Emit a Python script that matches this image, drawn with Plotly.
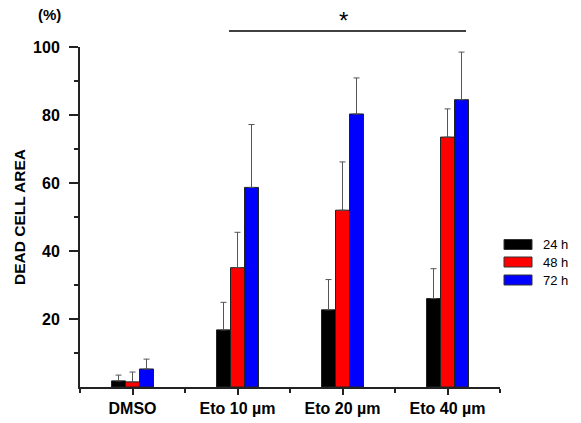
import plotly.graph_objects as go

categories = ["DMSO", "Eto 10 µm", "Eto 20 µm", "Eto 40 µm"]
series_names = ["24 h", "48 h", "72 h"]
series_colors = ["#000000", "#ff0000", "#0000ff"]
values_24h = [1.8, 16.8, 22.7, 26.0]
values_48h = [1.5, 35.1, 52.0, 73.5]
values_72h = [5.3, 58.7, 80.3, 84.5]
err_24h = [1.7, 8.1, 8.9, 8.8]
err_48h = [2.9, 10.4, 14.2, 8.3]
err_72h = [2.9, 18.5, 10.6, 14.0]
y_ticks = [20, 40, 60, 80, 100]

values = [values_24h, values_48h, values_72h]
errors = [err_24h, err_48h, err_72h]
xpos = list(range(len(categories)))

FONT = "Liberation Sans, Arial, sans-serif"
W, H = 581, 423
ML, MR, MT, MB = 80, 81, 47, 36
PW, PH = W - ML - MR, H - MT - MB

def px(x):
    return (x - ML) / PW

def py(y):
    return (H - MB - y) / PH

fig = go.Figure()
for name, col, v, e in zip(series_names, series_colors, values, errors):
    fig.add_trace(go.Bar(
        x=xpos, y=v, name=name,
        marker=dict(color=col, line=dict(color="#222222", width=1)),
        error_y=dict(type="data", array=e, arrayminus=[0] * len(e), symmetric=False,
                     color="#555555", thickness=1, width=3),
        showlegend=False,
    ))

fig.update_layout(
    width=W, height=H,
    margin=dict(l=ML, r=MR, t=MT, b=MB, autoexpand=False),
    paper_bgcolor="white", plot_bgcolor="white",
    barmode="group", bargap=0.6, bargroupgap=0,
    font=dict(family=FONT, color="#000000"),
    xaxis=dict(
        range=[-0.5, 3.5], tickmode="array", tickvals=xpos, ticktext=categories,
        automargin=False,
        showgrid=False, zeroline=False, showline=True, linecolor="#222222", linewidth=2,
        ticks="outside", ticklen=6, tickwidth=2, tickcolor="#222222",
        tickfont=dict(family=FONT, size=16, color="#000000", weight="bold"),
        minor=dict(tickmode="linear", tick0=-0.5, dtick=1, ticks="outside", ticklen=4,
                   tickwidth=2, tickcolor="#222222"),
    ),
    yaxis=dict(
        range=[0, 100], tickmode="array", tickvals=y_ticks,
        automargin=False,
        showgrid=False, zeroline=False, showline=True, linecolor="#222222", linewidth=2,
        ticks="outside", ticklen=9, tickwidth=2, tickcolor="#222222",
        ticklabelstandoff=6,
        tickfont=dict(family=FONT, size=16, color="#000000", weight="bold"),
        minor=dict(tickmode="linear", tick0=10, dtick=20, ticks="outside", ticklen=4,
                   tickwidth=2, tickcolor="#222222"),
        title=dict(text="DEAD CELL AREA", standoff=4,
                   font=dict(family=FONT, size=15.5, color="#000000", weight="bold")),
    ),
)

# (%) unit label
fig.add_annotation(x=px(49), y=py(15), xref="paper", yref="paper", text="<b>(%)</b>",
                   showarrow=False, font=dict(family=FONT, size=15), xanchor="center", yanchor="middle")

# significance bar and star
fig.add_shape(type="line", xref="paper", yref="paper", x0=px(229), x1=px(466),
              y0=py(31), y1=py(31), line=dict(color="#000000", width=1.5))
fig.add_annotation(x=px(343), y=py(20), xref="paper", yref="paper", text="*",
                   showarrow=False, font=dict(family=FONT, size=24), xanchor="center", yanchor="middle")

# manual legend
leg_y = [244.5, 262, 280]
for name, col, yc in zip(series_names, series_colors, leg_y):
    fig.add_shape(type="rect", xref="paper", yref="paper", x0=px(504), x1=px(532),
                  y0=py(yc - 5), y1=py(yc + 5), fillcolor=col, line=dict(color="#333333", width=1))
    fig.add_annotation(x=px(541), y=py(yc), xref="paper", yref="paper", text=name,
                       showarrow=False, font=dict(family=FONT, size=13), xanchor="left", yanchor="middle")

fig.write_html("out.html", config={"displayModeBar": False},
               post_script="document.body.style.margin='0';document.body.style.overflow='hidden';")
